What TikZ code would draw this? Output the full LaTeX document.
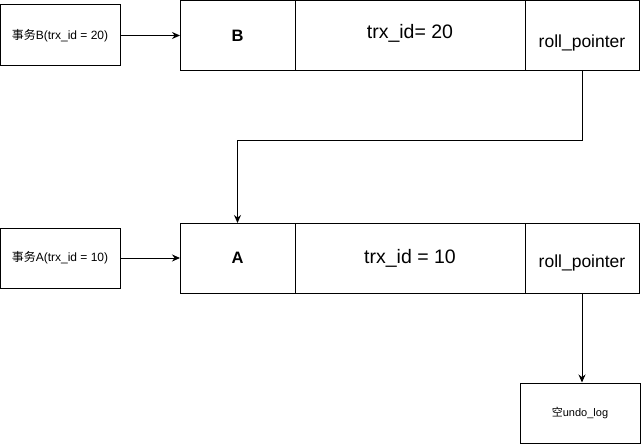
\documentclass[tikz,border=0pt]{standalone}
\usepackage{fontspec}
\setmainfont{Liberation Sans}
\setsansfont{Liberation Sans}
\newfontfamily\cjk{Noto Sans CJK SC}
\usetikzlibrary{arrows.meta, positioning}

\begin{document}
\begin{tikzpicture}[x=1pt, y=-1pt, every node/.style={font=\sffamily}]
\tikzstyle{txn}=[rectangle, draw, line width=1pt, minimum width=120pt, minimum height=60pt,
  inner sep=0pt, font=\fontsize{12}{14}\selectfont\sffamily]
\tikzstyle{cell}=[rectangle, draw, line width=1pt, minimum height=70pt, inner sep=0pt,
  outer sep=0pt, text height=2.4ex, text depth=0.3ex, font=\fontsize{19.5}{22}\selectfont\sffamily]
\tikzstyle{key}=[cell, minimum width=115pt, font=\bfseries\fontsize{16.5}{19}\selectfont\sffamily]
\tikzstyle{pointer}=[cell, minimum width=114pt, font=\fontsize{17.5}{20}\selectfont\sffamily]
\tikzstyle{link}=[line width=1pt, -{Stealth[length=8pt,width=7pt]}]
\useasboundingbox (0,0) rectangle (641,444);
% transaction B and its record
\node[txn, minimum height=61pt] (txnB) at (60,35.5) {{\cjk 事务}B(trx\_id = 20)};
\node[key] (B) at (237.5,35.5) {B};
\node[cell, minimum width=230pt, right=0pt of B] (trxB) {\raisebox{2.5pt}{trx\_id= 20}};
\node[pointer, right=0pt of trxB] (rpB) {\raisebox{-6pt}{roll\_pointer}};
% transaction A and its record
\node[txn] (txnA) at (60,258) {{\cjk 事务}A(trx\_id = 10)};
\node[key] (A) at (237.5,258) {A};
\node[cell, minimum width=230pt, right=0pt of A] (trxA) {trx\_id = 10};
\node[pointer, right=0pt of trxA] (rpA) {\raisebox{-4pt}{roll\_pointer}};
% end of the chain
\node[txn, font=\fontsize{11}{13}\selectfont\sffamily] (undo) at (580,413) {{\cjk 空}undo\_log};

\draw[link] (txnB) -- (B);
\draw[link] (txnA) -- (A);
\draw[link] (rpB.south) -- ++(0,70) -| (A.north);
\draw[link] (rpA.south) -- (rpA.south |- undo.north);
\end{tikzpicture}
\end{document}
